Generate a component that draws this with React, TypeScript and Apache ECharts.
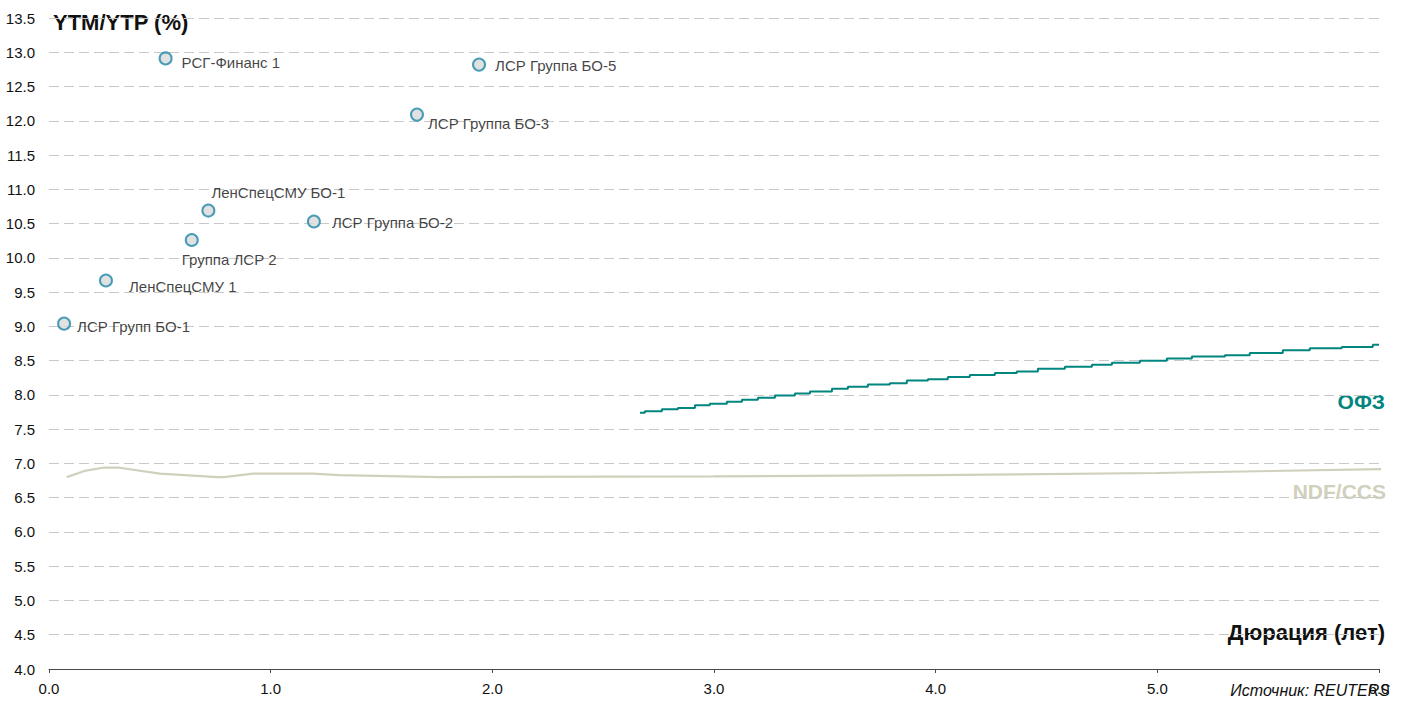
import React, { useEffect, useRef } from "react";
import * as echarts from "echarts";

const bondNames = [
  "ЛСР Групп БО-1",
  "ЛенСпецСМУ 1",
  "Группа ЛСР 2",
  "ЛенСпецСМУ БО-1",
  "ЛСР Группа БО-2",
  "ЛСР Группа БО-3",
  "РСГ-Финанс 1",
  "ЛСР Группа БО-5",
];
const bondDuration = [0.068, 0.257, 0.644, 0.719, 1.195, 1.66, 0.526, 1.94];
const bondYield = [9.04, 9.67, 10.26, 10.69, 10.53, 12.09, 12.91, 12.82];
const bondLabelOffset: [number, number][] = [
  [13, 3],
  [23, 6],
  [-10, 19],
  [3, -18],
  [18, 1],
  [11, 9],
  [16, 4],
  [16, 1],
];

const ofzDuration = [
  2.666, 2.688, 2.765, 2.837, 2.914, 2.981, 3.058, 3.126, 3.198, 3.275, 3.365, 3.433,
  3.532, 3.604, 3.694, 3.793, 3.87, 3.965, 4.055, 4.154, 4.267, 4.366, 4.461, 4.583,
  4.705, 4.795, 4.921, 5.043, 5.156, 5.305, 5.417, 5.566, 5.688, 5.832, 5.972, 6.0,
];
const ofzYield = [
  7.74, 7.76, 7.79, 7.81, 7.85, 7.87, 7.9, 7.93, 7.96, 7.99, 8.02, 8.05,
  8.09, 8.12, 8.15, 8.17, 8.21, 8.23, 8.26, 8.29, 8.32, 8.34, 8.38, 8.41,
  8.44, 8.47, 8.5, 8.53, 8.56, 8.58, 8.61, 8.65, 8.68, 8.7, 8.73, 8.73,
];

const ndfDuration = [0.08, 0.16, 0.25, 0.31, 0.5, 0.76, 0.79, 0.92, 1.19, 1.31, 1.76, 3.0, 4.0, 5.0, 6.05];
const ndfYield = [6.8, 6.89, 6.94, 6.94, 6.85, 6.8, 6.8, 6.85, 6.85, 6.83, 6.8, 6.81, 6.83, 6.86, 6.92];

const FONT = "'Liberation Sans', Arial, sans-serif";
const TXT = "#111111";
const OFZ_COLOR = "#00857f";
const NDF_COLOR = "#d0d0bc";

export default function App() {
  const ref = useRef<HTMLDivElement>(null);

  useEffect(() => {
    if (!ref.current) return;
    const chart = echarts.init(ref.current, undefined, { renderer: "svg" });

    const bondData = bondNames.map((name, i) => ({
      name,
      value: [bondDuration[i], bondYield[i]],
      label: {
        show: true,
        position: "inside",
        align: "left",
        verticalAlign: "middle",
        offset: bondLabelOffset[i],
        formatter: name,
        color: TXT,
        fontFamily: FONT,
        fontSize: 15,
      },
    }));

    chart.setOption({
      animation: false,
      backgroundColor: "#ffffff",
      grid: { left: 49, right: 26, top: 18, bottom: 33, containLabel: false },
      xAxis: {
        type: "value",
        min: 0,
        max: 6,
        interval: 1,
        axisLine: { show: true, lineStyle: { color: "#4a4a4a", width: 1 } },
        axisTick: { show: true, length: 4, lineStyle: { color: "#4a4a4a" } },
        axisLabel: {
          color: TXT,
          fontFamily: FONT,
          fontSize: 15,
          margin: 12,
          formatter: (v: number) => v.toFixed(1),
        },
        splitLine: { show: false },
      },
      yAxis: {
        type: "value",
        min: 4,
        max: 13.5,
        interval: 0.5,
        axisLine: { show: false },
        axisTick: { show: false },
        axisLabel: {
          color: TXT,
          fontFamily: FONT,
          fontSize: 15,
          margin: 14,
          formatter: (v: number) => v.toFixed(1),
        },
        splitLine: {
          show: true,
          lineStyle: { color: "#c8c8c8", type: [10, 5], width: 1 },
        },
      },
      series: [
        {
          type: "line",
          name: "NDF/CCS",
          data: ndfDuration.map((d, i) => [d, ndfYield[i]]),
          showSymbol: false,
          clip: false,
          lineStyle: { color: NDF_COLOR, width: 2.2 },
          z: 2,
        },
        {
          type: "line",
          name: "ОФЗ",
          data: ofzDuration.map((d, i) => [d, ofzYield[i]]),
          showSymbol: false,
          step: "end",
          clip: false,
          lineStyle: { color: OFZ_COLOR, width: 2 },
          z: 3,
        },
        {
          type: "scatter",
          name: "bonds",
          data: bondData,
          symbol: "circle",
          symbolSize: 12,
          itemStyle: { color: "#d9d9d9", borderColor: "#1c86a8", borderWidth: 2 },
          z: 5,
        },
      ],
      graphic: [
        {
          type: "text",
          left: 53,
          top: 11,
          style: {
            text: "YTM/YTP (%)",
            fill: TXT,
            font: `bold 22px ${FONT}`,
          },
        },
        {
          type: "text",
          right: 20,
          top: 621,
          style: {
            text: "Дюрация (лет)",
            fill: TXT,
            font: `bold 22px ${FONT}`,
          },
        },
        {
          type: "text",
          right: 20,
          top: 391,
          style: {
            text: "ОФЗ",
            fill: OFZ_COLOR,
            font: `bold 21px ${FONT}`,
          },
        },
        {
          type: "text",
          right: 19,
          top: 481,
          style: {
            text: "NDF/CCS",
            fill: NDF_COLOR,
            font: `bold 21px ${FONT}`,
          },
        },
        {
          type: "text",
          right: 15,
          top: 682,
          style: {
            text: "Источник: REUTERS",
            fill: TXT,
            font: `italic 16px ${FONT}`,
          },
        },
      ],
    });

    return () => chart.dispose();
  }, []);

  return (
    <div
      ref={ref}
      style={{ position: "fixed", left: 0, top: 0, width: 1405, height: 702, background: "#fff" }}
    />
  );
}
